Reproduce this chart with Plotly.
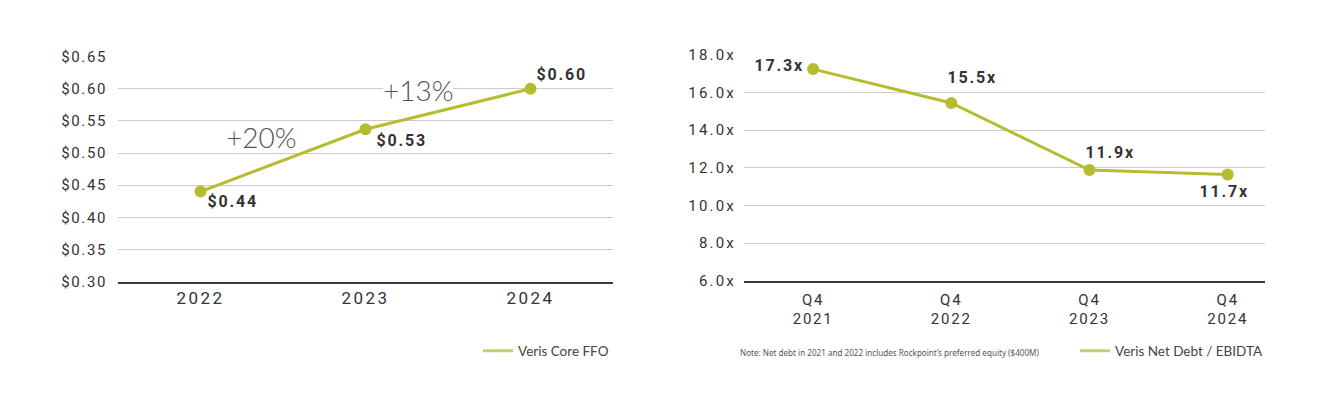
import plotly.graph_objects as go

# ---------------- data ----------------
ffo_years = ["2022", "2023", "2024"]
ffo_values = [0.44, 0.537, 0.60]
ffo_labels = ["$0.44", "$0.53", "$0.60"]
ffo_growth = ["+20%", "+13%"]
ffo_ticks = [0.30, 0.35, 0.40, 0.45, 0.50, 0.55, 0.60, 0.65]
ffo_ticktext = ["$0.30", "$0.35", "$0.40", "$0.45", "$0.50", "$0.55", "$0.60", "$0.65"]

lev_periods = ["Q4<br>2021", "Q4<br>2022", "Q4<br>2023", "Q4<br>2024"]
lev_values = [17.25, 15.45, 11.88, 11.65]
lev_labels = ["17.3x", "15.5x", "11.9x", "11.7x"]
lev_ticks = [6, 8, 10, 12, 14, 16, 18]
lev_ticktext = ["6.0x", "8.0x", "10.0x", "12.0x", "14.0x", "16.0x", "18.0x"]

note_text = "Note: Net debt in 2021 and 2022 includes Rockpoint\u2019s preferred equity ($400M)"

# ---------------- style ----------------
W, H = 1325, 394
OLIVE = "#b6bc30"
LEGEND_OLIVE = "#c9cd6e"
GRID = "#cbcbcb"
DARK = "#333333"
TICKFONT = dict(family="Roboto", size=15, color=DARK)

L_X0, L_X1, L_YTOP, L_YBOT = 118, 613, 56.7, 281.5
R_X0, R_X1, R_YTOP, R_YBOT = 744, 1265, 55, 280.7
Y1_RANGE = [0.30, 0.65]

fig = go.Figure()

fig.add_trace(go.Scatter(
    x=ffo_years, y=ffo_values, mode="lines+markers", name="Veris Core FFO",
    line=dict(color=OLIVE, width=3), marker=dict(color=OLIVE, size=12),
    xaxis="x", yaxis="y", showlegend=False, hoverinfo="skip"))
fig.add_trace(go.Scatter(
    x=[None], y=[None], mode="lines", name="Veris Core FFO",
    line=dict(color=LEGEND_OLIVE, width=3), xaxis="x", yaxis="y",
    legend="legend", showlegend=True, hoverinfo="skip"))

fig.add_trace(go.Scatter(
    x=lev_periods, y=lev_values, mode="lines+markers", name="Veris Net Debt / EBIDTA",
    line=dict(color=OLIVE, width=3), marker=dict(color=OLIVE, size=12),
    xaxis="x2", yaxis="y2", showlegend=False, hoverinfo="skip"))
fig.add_trace(go.Scatter(
    x=[None], y=[None], mode="lines", name="Veris Net Debt / EBIDTA",
    line=dict(color=LEGEND_OLIVE, width=3), xaxis="x2", yaxis="y2",
    legend="legend2", showlegend=True, hoverinfo="skip"))

ffo_lab_style = [("left", 9, -10), ("left", 13, -11), ("left", 8, 14)]
lev_lab_style = [("right", -11, 4), ("left", -1, 25), ("left", -1, 18), ("center", -3, -17)]
LABFONT = dict(family="Roboto", size=16, color=DARK, weight="bold")

annotations = []
shapes = []
for i, (y, t, (xa, dx, dy)) in enumerate(zip(ffo_values, ffo_labels, ffo_lab_style)):
    annotations.append(dict(x=i, y=y, xref="x", yref="y", text=t, showarrow=False,
                            xanchor=xa, yanchor="middle", xshift=dx, yshift=dy, font=LABFONT))
for i, (y, t, (xa, dx, dy)) in enumerate(zip(lev_values, lev_labels, lev_lab_style)):
    annotations.append(dict(x=i, y=y, xref="x2", yref="y2", text=t, showarrow=False,
                            xanchor=xa, yanchor="middle", xshift=dx, yshift=dy, font=LABFONT))

# growth labels near the midpoint of each segment; the second one masks the gridline behind it
px_per_cat = (L_X1 - L_X0) / 3.0
px_per_val = (L_YBOT - L_YTOP) / (Y1_RANGE[1] - Y1_RANGE[0])
growth_style = [(-22, 23, False), (-30, 19, True)]
for i, (g, (dx, dy, mask)) in enumerate(zip(ffo_growth, growth_style)):
    cx = i + 0.5
    cy = (ffo_values[i] + ffo_values[i + 1]) / 2
    annotations.append(dict(x=cx, y=cy, xref="x", yref="y", text=g, showarrow=False,
                            xanchor="center", yanchor="middle", xshift=dx, yshift=dy,
                            font=dict(family="Lato", size=28, color="#555555", weight=300)))
    if mask:
        mx = cx + dx / px_per_cat
        my = cy + dy / px_per_val
        hw, hh = 35 / px_per_cat, 12 / px_per_val
        shapes.append(dict(type="rect", xref="x", yref="y", layer="between",
                           x0=mx - hw, x1=mx + hw, y0=my - hh, y1=my + hh,
                           fillcolor="white", line=dict(width=0)))

annotations.append(dict(x=738 / W, y=1 - 352 / H, xref="paper", yref="paper",
                        text=note_text, showarrow=False, xanchor="left", yanchor="middle",
                        font=dict(family="Noto Sans", size=8.1, color="#555555")))

fig.update_layout(
    width=W, height=H, margin=dict(l=0, r=0, t=0, b=0, pad=0, autoexpand=False),
    paper_bgcolor="white", plot_bgcolor="white",
    annotations=annotations, shapes=shapes,
    xaxis=dict(domain=[L_X0 / W, L_X1 / W], type="category", range=[-0.5, 2.5],
               showgrid=False, showline=True, linecolor="#3a3a3a", linewidth=2,
               ticks="", ticklabelstandoff=0, automargin=False,
               tickfont=dict(family="Roboto", size=17, color=DARK),
               anchor="y", fixedrange=True),
    yaxis=dict(domain=[1 - L_YBOT / H, 1 - L_YTOP / H], range=Y1_RANGE,
               tickvals=ffo_ticks, ticktext=ffo_ticktext, automargin=False,
               showgrid=True, gridcolor=GRID, gridwidth=1, zeroline=False,
               showline=False, ticks="", ticklabelstandoff=10,
               tickfont=TICKFONT, anchor="x", fixedrange=True),
    xaxis2=dict(domain=[R_X0 / W, R_X1 / W], type="category", range=[-0.5, 3.27],
                showgrid=False, showline=True, linecolor="#3a3a3a", linewidth=2,
                ticks="", ticklabelstandoff=4, automargin=False,
                tickfont=TICKFONT, anchor="y2", fixedrange=True),
    yaxis2=dict(domain=[1 - R_YBOT / H, 1 - R_YTOP / H], range=[6, 18],
                tickvals=lev_ticks, ticktext=lev_ticktext, automargin=False,
                showgrid=True, gridcolor=GRID, gridwidth=1, zeroline=False,
                showline=False, ticks="", ticklabelstandoff=7,
                tickfont=TICKFONT, anchor="x2", fixedrange=True),
    legend=dict(x=614 / W, y=1 - 351 / H, xanchor="right", yanchor="middle",
                bgcolor="rgba(0,0,0,0)", font=dict(family="Lato", size=13.5, color="#444444"),
                itemwidth=30, tracegroupgap=0),
    legend2=dict(x=1268 / W, y=1 - 351 / H, xanchor="right", yanchor="middle",
                 bgcolor="rgba(0,0,0,0)", font=dict(family="Lato", size=13.5, color="#444444"),
                 itemwidth=30, tracegroupgap=0),
    showlegend=True,
)

post = """
(function(){
  document.documentElement.style.margin='0';
  document.documentElement.style.overflow='hidden';
  document.body.style.margin='0';
  document.body.style.padding='0';
  document.body.style.overflow='hidden';
  function sp(){
    document.querySelectorAll('.ytick text').forEach(function(t){ t.style.letterSpacing='1.6px'; });
    document.querySelectorAll('.y2tick text').forEach(function(t){ t.style.letterSpacing='2.2px'; });
    document.querySelectorAll('.xtick text').forEach(function(t){ t.style.letterSpacing='2.4px'; });
    document.querySelectorAll('.x2tick text').forEach(function(t){ t.style.letterSpacing='1.8px'; });
    document.querySelectorAll('.annotation-text').forEach(function(t){
      var s = t.textContent || '';
      if (/^[\\$0-9]/.test(s)) { t.style.letterSpacing='1.8px'; }
    });
  }
  sp();
  var gd = document.querySelector('.js-plotly-plot');
  if (gd && gd.on) { gd.on('plotly_afterplot', sp); }
})();
"""

fig.write_html("out.html", config={"displayModeBar": False, "staticPlot": True}, post_script=post)
